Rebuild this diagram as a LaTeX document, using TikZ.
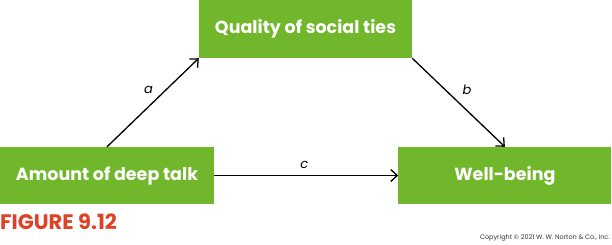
\documentclass[tikz,border=0pt]{standalone}
\usepackage{fontspec}
\setmainfont{Poppins}
\usepackage{tikz}
\usetikzlibrary{positioning,arrows.meta}

\definecolor{boxgreen}{RGB}{113,183,44}
\definecolor{figred}{RGB}{222,66,38}

\begin{document}
\begin{tikzpicture}[x=1pt,y=1pt,
				varbox/.style={
						fill=boxgreen,
						text=white,
						font=\fontsize{17.5}{20}\selectfont\bfseries,
						align=center,
						inner sep=0pt,
						minimum width=213pt,
						minimum height=57pt},
				path/.style={->,line width=1.3pt,>={Straight Barb[length=6.5pt,width=12pt]}},
				coef/.style={font=\fontsize{13}{15}\selectfont\itshape}]

			\useasboundingbox (0,0) rectangle (612,-244);

			\node[varbox,minimum width=214pt] (talk) at (107,-175.5) {Amount of deep talk};
			\node[varbox] (well) [right=184pt of talk] {Well-being};
			\node[varbox,minimum height=58pt] (ties) at (305.5,-29) {Quality of social ties};

			\draw[path] (talk.north) -- node[coef,above left=5pt and -4pt] {a} (ties.south west);
			\draw[path] (ties.south east) -- node[coef,above right=4pt and 0pt] {b} (well.north);
			\draw[path] (talk.east) -- node[coef,above=3pt,xshift=-2pt] {c} (well.west);

			\node[anchor=south west,inner sep=0pt,text=figred,
				font=\fontsize{21}{23}\selectfont\bfseries] (fig) at (0,-230) {FIGURE 9.12};
			\node[anchor=base east,inner sep=0pt,text=black!80,
				font=\fontsize{6.5}{8}\selectfont] (copy) at (610,-239) {Copyright \textcopyright{} 2021 W. W. Norton \& Co., Inc.};

		\end{tikzpicture}
\end{document}
